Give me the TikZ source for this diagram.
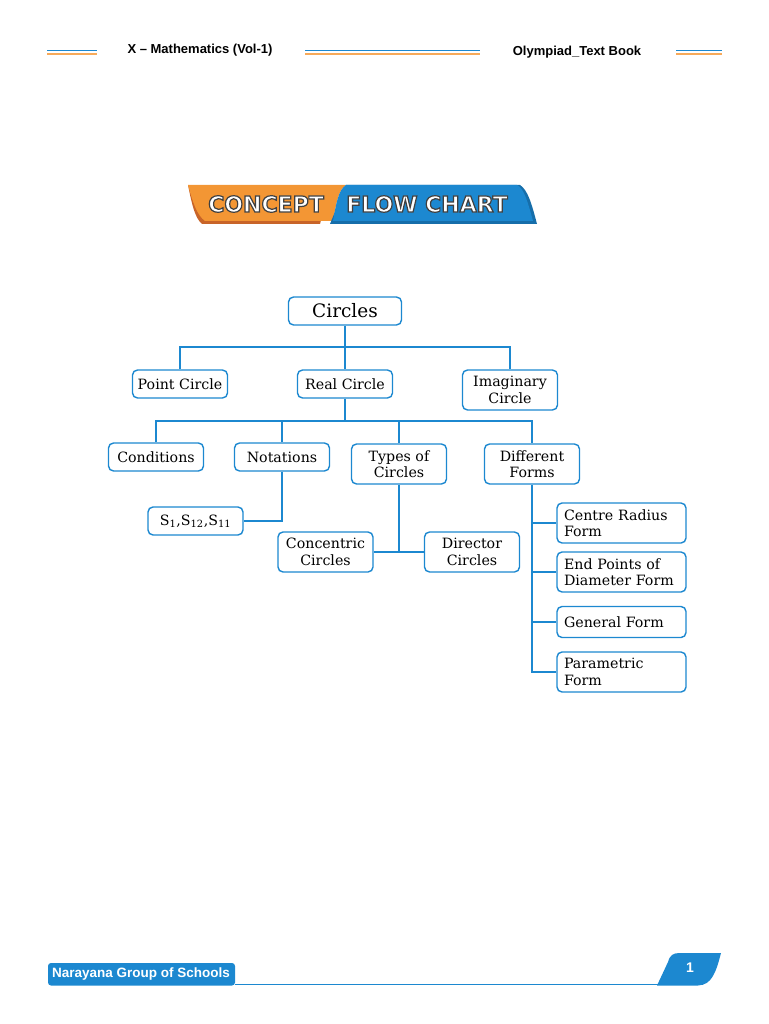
\documentclass[tikz,border=0pt]{standalone}
\usepackage{fontspec}
\setmainfont{DejaVu Serif}
\newfontfamily\hdfont[Ligatures=TeX]{Liberation Sans}
\newfontfamily\bnfont{DejaVu Sans}
\usetikzlibrary{positioning}
\definecolor{cblue}{RGB}{28,136,208}
\definecolor{dblue}{RGB}{22,110,170}
\definecolor{corange}{RGB}{243,150,52}
\definecolor{dorange}{RGB}{200,100,40}
\definecolor{lorange}{RGB}{247,170,90}
\newcommand\outlined[1]{\special{pdf:code q 2 Tr 1.2 w 0.25 0.25 0.25 RG}#1\special{pdf:code Q}}
\tikzset{
  box/.style={draw=cblue, line width=1.4pt, rounded corners=5pt, fill=white,
    minimum width=95pt, minimum height=28pt, align=center, inner sep=2pt,
    font=\fontsize{14.2}{16.5}\selectfont},
  lbox/.style={box, minimum width=129pt, align=left, text width=115pt, inner xsep=7pt},
  link/.style={draw=cblue, line width=2pt},
  hd/.style={font=\hdfont\bfseries\fontsize{13}{15}\selectfont},
  bn/.style={font=\bnfont\bfseries\fontsize{22}{25}\selectfont, text=white},
}
\begin{document}
\begin{tikzpicture}[x=1pt,y=-1pt]
  \useasboundingbox (0,0) rectangle (768,1024);
  % header
  \foreach \a/\b in {47/97,305/480,676/722} {
    \draw[cblue, line width=1.7pt] (\a,50.5) -- (\b,50.5);
    \draw[lorange, line width=1.7pt] (\a,54) -- (\b,54);
  }
  \node[hd] (book) at (200,50) {X – Mathematics (Vol-1)};
  \node[hd] (olym) at (577,52) {Olympiad\_Text Book};
  % banner
  \fill[dorange] (188,185) .. controls (192,205) and (195,218) .. (202,224) -- (320,224) -- (330,186) -- cycle;
  \fill[corange] (188,185) .. controls (193,203) and (197,215) .. (205,221) -- (333,221)
    .. controls (336,205) and (338,190) .. (346,185) -- cycle;
  \fill[dblue] (330,224) -- (537,224) .. controls (532,205) and (528,190) .. (520,185) -- (346,185) -- cycle;
  \fill[cblue] (333,221) -- (533,221) .. controls (528,203) and (524,188) .. (517,185) -- (346,185)
    .. controls (338,190) and (336,205) .. (333,221) -- cycle;
  \node[bn] (concept) at (266,204) {\outlined{CONCEPT}};
  \node[bn] (flow) at (427,204) {\outlined{FLOW CHART}};
  % chart
  \node[box, minimum width=113pt, font=\fontsize{18.5}{21}\selectfont] (circles) at (345,311) {Circles};
  \node[box] (point) at (180,384) {Point Circle};
  \node[box] (real) at (345,384) {Real Circle};
  \node[box, minimum height=40pt] (imag) at (510,390) {Imaginary\\Circle};
  \node[box] (cond) at (156,457) {Conditions};
  \node[box] (notat) at (282,457) {Notations};
  \node[box, minimum height=40pt] (types) at (399,464) {Types of\\Circles};
  \node[box, minimum height=40pt] (diff) at (532,464) {Different\\Forms};
  \node[box] (sym) at (195.5,521) {S\textsubscript{1},S\textsubscript{12},S\textsubscript{11}};
  \node[box, minimum height=40pt] (conc) at (325.5,552) {Concentric\\Circles};
  \node[box, minimum height=40pt] (dir) at (472,552) {Director\\Circles};
  \node[lbox, minimum height=40pt] (cr) at (621.5,523) {Centre Radius\\Form};
  \node[lbox, minimum height=40pt] (ep) at (621.5,572) {End Points of\\Diameter Form};
  \node[lbox, minimum height=31pt] (gen) at (621.5,622) {General Form};
  \node[lbox, minimum height=40pt] (par) at (621.5,672) {Parametric\\Form};
  % connectors
  \draw[link] (circles.south) -- (real.north);
  \draw[link] (point.north) -- ++(0,-22) -| (imag.north);
  \coordinate (rbar) at (345,422);
  \draw[link] (real.south) -- (rbar);
  \draw[link] (cond.north) -- ++(0,-21) -| (diff.north);
  \draw[link] (notat.north) -- (notat.north |- rbar);
  \draw[link] (types.north) -- (types.north |- rbar);
  \draw[link] (notat.south) |- (sym.east);
  \draw[link] (conc.east) -- (dir.west);
  \draw[link] (types.south) -- (types.south |- conc.east);
  \draw[link] (diff.south) |- (par.west);
  \draw[link] (diff.south |- cr.west) -- (cr.west);
  \draw[link] (diff.south |- ep.west) -- (ep.west);
  \draw[link] (diff.south |- gen.west) -- (gen.west);
  % footer
  \draw[cblue, line width=1.6pt] (235,984.5) -- (665,984.5);
  \fill[cblue, rounded corners=3pt] (48,963) rectangle (235,985.5);
  \node[font=\hdfont\bfseries\fontsize{13.5}{15}\selectfont, text=white] (school) at (141,973.5) {Narayana Group of Schools};
  \fill[cblue] (657,985.5) -- (668,962) .. controls (670,955) and (673,953) .. (680,953) -- (721,953)
    .. controls (716,972) and (712,985) .. (698,985.5) -- cycle;
  \node[font=\hdfont\bfseries\fontsize{14}{15}\selectfont, text=white] (page) at (690,968) {1};
\end{tikzpicture}
\end{document}
